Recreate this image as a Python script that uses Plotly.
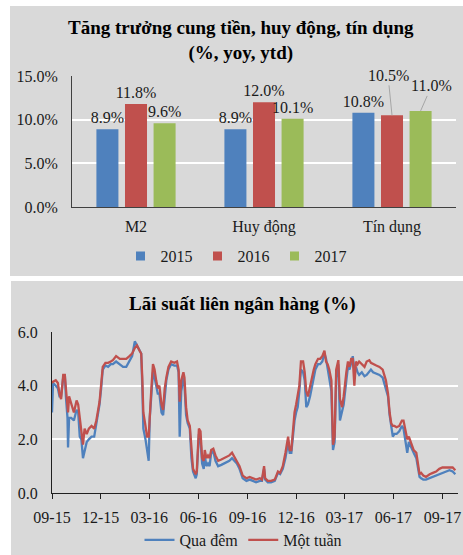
import plotly.graph_objects as go

W, H = 463, 555

# ---------------- data: top chart ----------------
categories = ["M2", "Huy động", "Tín dụng"]
years = ["2015", "2016", "2017"]
growth_2015 = [8.9, 8.9, 10.8]
growth_2016 = [11.8, 12.0, 10.5]
growth_2017 = [9.6, 10.1, 11.0]

# ---------------- data: bottom chart ----------------
dates = [
    "2015-09-01", "2015-09-03", "2015-09-08", "2015-09-12", "2015-09-15", "2015-09-18",
    "2015-09-22", "2015-09-25", "2015-09-27", "2015-09-30", "2015-10-01", "2015-10-03",
    "2015-10-07", "2015-10-12", "2015-10-17", "2015-10-20", "2015-10-23", "2015-10-26",
    "2015-10-29", "2015-11-01", "2015-11-05", "2015-11-09", "2015-11-14", "2015-11-19",
    "2015-11-23", "2015-11-29", "2015-12-02", "2015-12-05", "2015-12-10", "2015-12-15",
    "2015-12-20", "2015-12-24", "2015-12-30", "2016-01-06", "2016-01-12", "2016-01-18",
    "2016-01-24", "2016-01-29", "2016-02-03", "2016-02-07", "2016-02-12", "2016-02-15",
    "2016-02-17", "2016-02-19", "2016-02-23", "2016-02-26", "2016-02-29", "2016-03-02",
    "2016-03-05", "2016-03-08", "2016-03-11", "2016-03-14", "2016-03-17", "2016-03-20",
    "2016-03-24", "2016-03-27", "2016-03-30", "2016-04-02", "2016-04-06", "2016-04-11",
    "2016-04-17", "2016-04-22", "2016-04-25", "2016-04-27", "2016-04-30", "2016-05-04",
    "2016-05-06", "2016-05-09", "2016-05-12", "2016-05-16", "2016-05-19", "2016-05-22",
    "2016-05-27", "2016-05-29", "2016-06-02", "2016-06-05", "2016-06-08", "2016-06-11",
    "2016-06-13", "2016-06-16", "2016-06-19", "2016-06-22", "2016-06-25", "2016-06-29",
    "2016-07-03", "2016-07-08", "2016-07-14", "2016-07-23", "2016-07-29", "2016-08-03",
    "2016-08-08", "2016-08-12", "2016-08-17", "2016-08-23", "2016-08-30", "2016-09-05",
    "2016-09-11", "2016-09-17", "2016-09-24", "2016-09-28", "2016-10-02", "2016-10-04",
    "2016-10-09", "2016-10-15", "2016-10-22", "2016-10-28", "2016-11-01", "2016-11-06",
    "2016-11-11", "2016-11-16", "2016-11-19", "2016-11-22", "2016-11-25", "2016-11-28",
    "2016-12-01", "2016-12-04", "2016-12-07", "2016-12-10", "2016-12-14", "2016-12-17",
    "2016-12-20", "2016-12-23", "2016-12-27", "2016-12-31", "2017-01-03", "2017-01-06",
    "2017-01-11", "2017-01-15", "2017-01-19", "2017-01-23", "2017-01-26", "2017-01-29",
    "2017-02-01", "2017-02-05", "2017-02-08", "2017-02-11", "2017-02-14", "2017-02-18",
    "2017-02-21", "2017-02-25", "2017-02-28", "2017-03-05", "2017-03-08", "2017-03-11",
    "2017-03-14", "2017-03-17", "2017-03-20", "2017-03-23", "2017-03-26", "2017-03-29",
    "2017-04-03", "2017-04-08", "2017-04-12", "2017-04-17", "2017-04-20", "2017-04-24",
    "2017-04-30", "2017-05-06", "2017-05-12", "2017-05-18", "2017-05-22", "2017-05-25",
    "2017-05-28", "2017-05-31", "2017-06-03", "2017-06-07", "2017-06-12", "2017-06-17",
    "2017-06-20", "2017-06-24", "2017-06-27", "2017-06-30", "2017-07-04", "2017-07-09",
    "2017-07-14", "2017-07-17", "2017-07-20", "2017-07-23", "2017-07-27", "2017-08-01",
    "2017-08-08", "2017-08-14", "2017-08-20", "2017-08-26", "2017-09-01", "2017-09-08",
    "2017-09-14", "2017-09-20", "2017-09-25",
]

mot_tuan = [
    4.10, 4.15, 4.20, 4.10, 3.70, 3.50, 4.40, 4.40, 3.90, 3.20, 3.00, 3.60,
    3.30, 3.00, 3.45, 3.30, 2.80, 2.30, 1.80, 2.40, 2.20, 2.40, 2.50, 2.40,
    2.70, 3.40, 4.00, 4.70, 4.85, 4.85, 4.90, 4.95, 5.10, 5.00, 5.00, 5.00,
    5.10, 5.20, 5.40, 5.50, 5.30, 5.20, 4.30, 3.00, 2.50, 2.10, 2.10, 3.00,
    3.90, 4.80, 4.60, 4.20, 3.90, 4.00, 3.30, 3.10, 3.90, 4.30, 4.70, 4.90,
    4.85, 4.90, 4.60, 3.40, 4.20, 4.50, 4.30, 3.20, 2.70, 2.50, 1.50, 0.90,
    0.70, 0.80, 2.40, 2.30, 1.30, 1.20, 1.60, 1.30, 1.40, 1.30, 1.60, 1.65,
    1.40, 1.20, 1.25, 1.35, 1.40, 1.50, 1.30, 1.20, 1.00, 0.65, 0.55, 0.60,
    0.55, 0.50, 0.55, 0.50, 1.00, 0.55, 0.45, 0.45, 0.50, 0.80, 0.75, 1.00,
    1.50, 2.10, 1.60, 1.60, 2.30, 3.00, 3.30, 3.60, 4.00, 4.90, 4.90, 4.50,
    3.80, 3.60, 4.00, 4.40, 4.60, 4.80, 5.00, 5.00, 5.10, 5.30, 4.90, 4.80,
    4.60, 4.20, 1.80, 2.10, 4.60, 4.95, 3.50, 3.20, 3.60, 4.50, 4.90, 4.70,
    5.00, 5.00, 4.00, 4.90, 4.80, 4.90, 4.80, 4.70, 4.90, 4.95, 4.85, 4.80,
    4.75, 4.70, 4.60, 4.20, 3.70, 3.00, 2.60, 2.50, 2.50, 2.45, 2.50, 2.70,
    2.70, 2.30, 2.00, 2.10, 1.90, 1.60, 1.50, 1.00, 0.70, 0.75, 0.65, 0.60,
    0.70, 0.75, 0.80, 0.90, 0.95, 0.95, 0.95, 0.95, 0.85,
]

qua_dem = [
    3.00, 4.10, 4.00, 3.90, 3.60, 3.60, 4.30, 4.40, 3.60, 2.80, 1.70, 2.80,
    2.80, 2.70, 3.10, 3.00, 2.10, 2.00, 1.30, 1.60, 1.90, 2.00, 2.10, 2.10,
    2.60, 3.30, 3.90, 4.60, 4.75, 4.70, 4.80, 4.80, 4.90, 4.80, 4.70, 4.70,
    4.90, 5.10, 5.65, 5.50, 5.30, 5.20, 4.00, 2.40, 2.00, 1.50, 1.20, 2.80,
    3.70, 4.50, 4.30, 4.00, 3.70, 3.70, 3.00, 2.90, 3.70, 4.20, 4.60, 4.80,
    4.75, 4.75, 4.50, 2.10, 3.80, 4.30, 4.00, 2.90, 2.60, 2.40, 1.30, 0.80,
    0.55, 0.70, 2.20, 2.00, 1.10, 0.90, 1.40, 1.00, 1.10, 1.00, 1.50, 1.55,
    1.20, 1.00, 1.05, 1.15, 1.20, 1.30, 1.20, 1.10, 0.90, 0.55, 0.45, 0.50,
    0.45, 0.40, 0.45, 0.45, 0.90, 0.50, 0.40, 0.40, 0.45, 0.75, 0.70, 0.90,
    1.30, 1.90, 1.50, 1.50, 2.10, 2.70, 3.00, 3.20, 3.80, 4.60, 4.50, 4.20,
    3.20, 3.30, 3.60, 4.00, 4.40, 4.60, 4.80, 4.80, 4.90, 5.20, 5.00, 4.60,
    4.30, 3.80, 1.60, 1.90, 4.30, 4.80, 2.70, 3.00, 3.30, 4.20, 4.70, 4.60,
    4.90, 5.10, 4.60, 4.70, 4.50, 4.40, 4.50, 4.35, 4.40, 4.55, 4.60, 4.50,
    4.45, 4.40, 4.30, 3.90, 3.60, 2.90, 2.50, 2.10, 2.20, 2.20, 2.30, 2.50,
    2.40, 1.90, 1.50, 1.90, 1.70, 1.50, 1.30, 0.90, 0.60, 0.55, 0.50, 0.50,
    0.55, 0.60, 0.65, 0.70, 0.75, 0.80, 0.85, 0.80, 0.70,
]

x_range = ["2015-09-01", "2017-09-30"]

# ---------------- styles ----------------
FONT = "Liberation Serif"
BLUE, RED, GREEN = "#4F81BD", "#C0504D", "#9BBB59"
PANEL = "#D9D9D9"
TXT = "#1a1a1a"

def px_x(p):
    return p / W

def px_y(p):
    return 1 - p / H

top_x = [px_x(72), px_x(456)]
top_y = [px_y(207), px_y(76)]
bot_x = [px_x(52), px_x(458)]
bot_y = [px_y(493), px_y(332)]

BARGAP, BARGROUPGAP = 0.33, 0.23

fig = go.Figure()

series = [("2015", growth_2015, BLUE), ("2016", growth_2016, RED), ("2017", growth_2017, GREEN)]
callouts = {("2016", "Tín dụng"): (-4, -40), ("2017", "Tín dụng"): (11, -25)}

plot_w_px = (top_x[1] - top_x[0]) * W
slot_px = plot_w_px / len(categories) * (1 - BARGAP) / len(series)

annotations = []
for i, (name, vals, col) in enumerate(series):
    texts = []
    for c, v in zip(categories, vals):
        if (name, c) in callouts:
            texts.append("")
            dx, dy = callouts[(name, c)]
            annotations.append(dict(
                x=c, y=v, xref="x", yref="y", xshift=(i - 1) * slot_px,
                text=f"{v:.1f}%", showarrow=True, arrowhead=0, arrowwidth=1,
                arrowcolor="#A6A6A6", ax=dx, ay=dy, standoff=0,
                font=dict(family=FONT, size=16, color=TXT),
            ))
        else:
            texts.append(f"{v:.1f}%")
    fig.add_trace(go.Bar(
        x=categories, y=vals, name=name, marker=dict(color=col, line=dict(width=0)),
        text=texts, textposition="outside", constraintext="none", cliponaxis=False,
        textfont=dict(family=FONT, size=16, color=TXT),
        showlegend=False, xaxis="x", yaxis="y",
    ))
    fig.add_trace(go.Scatter(
        x=[None], y=[None], mode="markers", name=name,
        marker=dict(symbol="square", size=9, color=col),
        legend="legend", xaxis="x", yaxis="y",
    ))

fig.add_trace(go.Scatter(
    x=dates, y=qua_dem, mode="lines", name="Qua đêm",
    line=dict(color=BLUE, width=2.3), legend="legend2", xaxis="x2", yaxis="y2",
))
fig.add_trace(go.Scatter(
    x=dates, y=mot_tuan, mode="lines", name="Một tuần",
    line=dict(color=RED, width=2.3), legend="legend2", xaxis="x2", yaxis="y2",
))

annotations += [
    dict(text="<b>Tăng trưởng cung tiền, huy động, tín dụng<br>(%, yoy, ytd)</b>",
         x=px_x(240.5), y=px_y(40.5), xref="paper", yref="paper",
         xanchor="center", yanchor="middle", showarrow=False,
         font=dict(family=FONT, size=19, color="black")),
    dict(text="<b>Lãi suất liên ngân hàng (%)</b>",
         x=px_x(241.5), y=px_y(304), xref="paper", yref="paper",
         xanchor="center", yanchor="middle", showarrow=False,
         font=dict(family=FONT, size=19, color="black")),
]

shapes = [
    dict(type="rect", xref="paper", yref="paper", x0=px_x(10), x1=1,
         y0=px_y(276), y1=px_y(6), fillcolor=PANEL, line=dict(width=0), layer="below"),
    dict(type="rect", xref="paper", yref="paper", x0=px_x(11), x1=1,
         y0=0, y1=px_y(281), fillcolor=PANEL, line=dict(width=0), layer="below"),
]

tickfont = dict(family=FONT, size=16, color=TXT)

fig.update_layout(
    width=W, height=H, margin=dict(l=0, r=0, t=0, b=0, autoexpand=False),
    paper_bgcolor="white", plot_bgcolor="rgba(0,0,0,0)",
    barmode="group", bargap=BARGAP, bargroupgap=BARGROUPGAP,
    font=dict(family=FONT, color=TXT),
    shapes=shapes, annotations=annotations,
    xaxis=dict(domain=top_x, anchor="y", type="category", showline=True,
               linecolor="#404040", linewidth=1, ticks="", tickfont=tickfont,
               ticklabelstandoff=5, showgrid=False, fixedrange=True, automargin=False),
    yaxis=dict(domain=top_y, anchor="x", range=[0, 15], dtick=5, tickformat=".1f",
               ticksuffix="%", showline=True, linecolor="#404040", linewidth=1,
               gridcolor="white", gridwidth=1.5, zeroline=False, tickfont=tickfont,
               ticklabelstandoff=10, automargin=False),
    xaxis2=dict(domain=bot_x, anchor="y2", type="date", range=x_range,
                tick0="2015-09-01", dtick="M3", tickformat="%m-%y",
                ticks="outside", ticklen=5, tickcolor="#202020", showline=True,
                linecolor="#202020", linewidth=1, showgrid=False, tickfont=tickfont,
                ticklabelstandoff=5, automargin=False),
    yaxis2=dict(domain=bot_y, anchor="x2", range=[0, 6], dtick=2, tickformat=".1f",
                showline=True, linecolor="#202020", linewidth=1, gridcolor="white",
                gridwidth=1.5, zeroline=False, tickfont=tickfont, ticklabelstandoff=10,
                automargin=False),
    legend=dict(orientation="h", x=px_x(236), xanchor="center", y=px_y(256),
                yanchor="middle", bgcolor="rgba(0,0,0,0)", itemwidth=30,
                font=dict(family=FONT, size=16, color=TXT)),
    legend2=dict(orientation="h", x=px_x(243), xanchor="center", y=px_y(540),
                 yanchor="middle", bgcolor="rgba(0,0,0,0)", itemwidth=30,
                 font=dict(family=FONT, size=16, color=TXT)),
)

fig.write_html("out.html")
